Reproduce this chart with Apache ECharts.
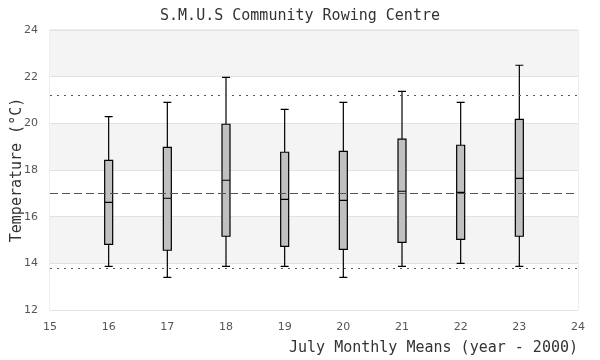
<!DOCTYPE html>
<html><head><meta charset="utf-8">
<script src="https://cdn.jsdelivr.net/npm/echarts@6/dist/echarts.min.js"></script>
<style>html,body{margin:0;padding:0;background:#fff}#c{width:600px;height:360px}</style>
</head><body><div id="c"></div>
<script>
var categories = ['15','16','17','18','19','20','21','22','23','24'];
// [min, Q1, median, Q3, max] per year (null = no data)
var boxMin    = [null, 13.87, 13.40, 13.87, 13.87, 13.40, 13.87, 14.00, 13.87, null];
var boxQ1     = [null, 14.81, 14.56, 15.16, 14.73, 14.60, 14.90, 15.03, 15.16, null];
var boxMedian = [null, 16.61, 16.79, 17.56, 16.74, 16.70, 17.09, 17.04, 17.64, null];
var boxQ3     = [null, 18.41, 18.97, 19.96, 18.76, 18.80, 19.32, 19.06, 20.17, null];
var boxMax    = [null, 20.29, 20.90, 21.97, 20.60, 20.90, 21.37, 20.90, 22.49, null];
var meanLine = 17.0;
var limitLines = [21.2, 13.8];
var yTicks = {min: 12, max: 24, interval: 2};

var boxData = categories.map(function(c, i){
  if (boxMin[i] === null) return '-';
  return [boxMin[i], boxQ1[i], boxMedian[i], boxQ3[i], boxMax[i]];
});

var mono = 'DejaVu Sans Mono';
var chart = echarts.init(document.getElementById('c'));
chart.setOption({
  animation: false,
  title: {text: 'S.M.U.S Community Rowing Centre', left: 'center', top: 4,
    textStyle: {fontFamily: mono, fontSize: 15, fontWeight: 'normal', color: '#333'}},
  grid: {left: 50, right: 22, top: 30, bottom: 50, show: true, borderColor: '#ddd', borderWidth: 1,
    backgroundColor: 'transparent', containLabel: false, outerBoundsMode: 'none'},
  xAxis: {type: 'category', data: categories, boundaryGap: false,
    name: 'July Monthly Means (year - 2000)', nameLocation: 'end', nameGap: 0, nameMoveOverlap: false,
    nameTextStyle: {fontFamily: mono, fontSize: 15, color: '#333', align: 'right', verticalAlign: 'top', padding: [31, 0, 0, 0]},
    axisLine: {show: false}, axisTick: {show: false},
    axisLabel: {color: '#555', fontSize: 11, fontFamily: 'DejaVu Sans', margin: 12},
    splitLine: {show: false}},
  yAxis: {type: 'value', min: yTicks.min, max: yTicks.max, interval: yTicks.interval,
    name: 'Temperature (°C)', nameLocation: 'middle', nameGap: 25, nameRotate: 90, nameMoveOverlap: false,
    nameTextStyle: {fontFamily: mono, fontSize: 15, color: '#333'},
    axisLine: {show: false}, axisTick: {show: false},
    axisLabel: {color: '#555', fontSize: 11, fontFamily: 'DejaVu Sans', margin: 12},
    splitLine: {show: true, lineStyle: {color: '#e2e2e2', width: 1}},
    splitArea: {show: true, areaStyle: {color: ['#ffffff', '#f4f4f4']}}},
  series: [{
    type: 'boxplot', data: boxData, boxWidth: [8, 8],
    itemStyle: {color: '#c0c0c0', borderColor: '#000', borderWidth: 1.2},
    markLine: {silent: true, symbol: 'none', label: {show: false},
      data: [
        {yAxis: meanLine, lineStyle: {type: [8, 4], color: '#555', width: 1}},
        {yAxis: limitLines[0], lineStyle: {type: [2, 5], color: '#555', width: 1}},
        {yAxis: limitLines[1], lineStyle: {type: [2, 5], color: '#555', width: 1}}
      ]}
  }]
});
</script></body></html>
